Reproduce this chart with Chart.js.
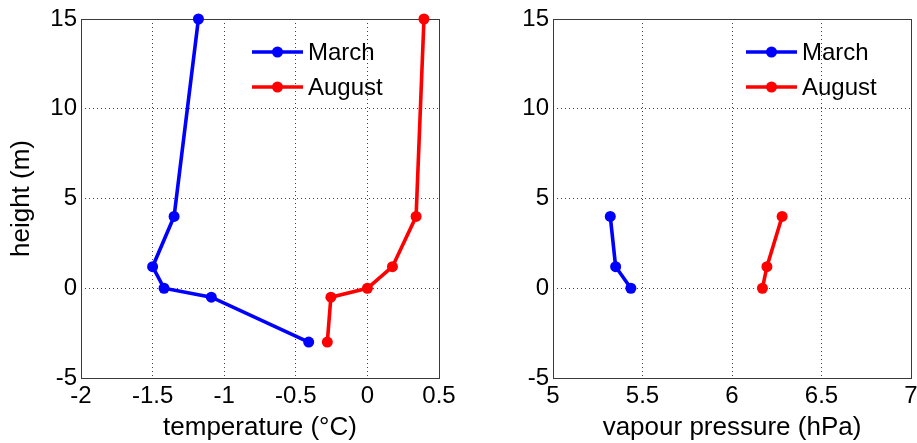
<!DOCTYPE html>
<html>
<head>
<meta charset="utf-8">
<script src="https://cdn.jsdelivr.net/npm/chart.js@4/dist/chart.umd.min.js"></script>
<style>
html,body{margin:0;padding:0;background:#fff;overflow:hidden;width:917px;height:443px;}
#w1{position:absolute;left:0;top:0;width:460px;height:443px;}
#w2{position:absolute;left:460px;top:0;width:477px;height:443px;}
</style>
</head>
<body>
<div id="w1"><canvas id="c1"></canvas></div>
<div id="w2"><canvas id="c2"></canvas></div>
<script>
// ---- data ----
const seriesNames = ['March', 'August'];
const tempHeights = [15, 4, 1.2, 0, -0.5, -3];
const marchTemp = [-1.18, -1.35, -1.50, -1.42, -1.09, -0.41];
const augustTemp = [0.395, 0.34, 0.175, 0.0, -0.255, -0.28];
const vpHeights = [4, 1.2, 0];
const marchVp = [5.32, 5.35, 5.435];
const augustVp = [6.28, 6.195, 6.17];
const tempTicks = [-2, -1.5, -1, -0.5, 0, 0.5];
const vpTicks = [5, 5.5, 6, 6.5, 7];
const heightTicks = [-5, 0, 5, 10, 15];

const FONT = "'Liberation Sans', Arial, sans-serif";
const colors = ['#0000ff', '#ff0000'];

function pts(xs, ys){ return xs.map((x,i)=>({x:x, y:ys[i]})); }

function ds(label, data, color){
  return {label, data, borderColor:color, backgroundColor:color,
    showLine:true, borderWidth:3.6, pointRadius:5.5, pointHoverRadius:5.5,
    pointBorderWidth:0, clip:false, tension:0};
}

const boxPlugin = {
  id:'boxPlugin',
  beforeDatasetsDraw(chart){
    const {ctx, chartArea:a} = chart;
    ctx.save();
    ctx.strokeStyle = '#3a3a3a';
    ctx.lineWidth = 1;
    ctx.strokeRect(Math.round(a.left)+0.5, Math.round(a.top)+0.5, Math.round(a.right-a.left), Math.round(a.bottom-a.top));
    ctx.restore();
  }
};

const legendPlugin = {
  id:'mlegend',
  afterDatasetsDraw(chart, args, opts){
    const {ctx, chartArea:a} = chart;
    ctx.save();
    chart.data.datasets.forEach((d,i)=>{
      const x0 = a.left + opts.x;
      const y = a.top + opts.y + i*opts.dy;
      ctx.strokeStyle = d.borderColor;
      ctx.lineWidth = 3.6;
      ctx.beginPath(); ctx.moveTo(x0, y); ctx.lineTo(x0+opts.len, y); ctx.stroke();
      ctx.fillStyle = d.borderColor;
      ctx.beginPath(); ctx.arc(x0+opts.len/2, y, 5.5, 0, Math.PI*2); ctx.fill();
      ctx.fillStyle = '#000';
      ctx.font = opts.fontSize + 'px ' + FONT;
      ctx.textBaseline = 'middle';
      ctx.textAlign = 'left';
      ctx.fillText(d.label, x0+opts.len+5, y+1);
    });
    ctx.restore();
  }
};

function makeChart(id, datasets, xmin, xmax, xstep, xTicks, xTitle, yTitle, yWidth, padRight, legX){
  const tickFont = {family:FONT, size:24};
  return new Chart(document.getElementById(id), {
    type:'scatter',
    data:{datasets},
    plugins:[boxPlugin, legendPlugin],
    options:{
      responsive:true, maintainAspectRatio:false, animation:false,
      layout:{padding:{top:19, right:padRight, left:0, bottom:0}},
      plugins:{
        legend:{display:false}, tooltip:{enabled:false},
        mlegend:{x:legX, y:33, dy:35, len:51, fontSize:24}
      },
      scales:{
        x:{
          type:'linear', min:xmin, max:xmax,
          afterBuildTicks: s => { s.ticks = xTicks.map(v=>({value:v})); },
          afterFit: s => { s.height = 65; },
          ticks:{font:tickFont, color:'#000', padding:4, maxRotation:0, autoSkip:false,
            callback: v => String(v)},
          grid:{color:'rgba(0,0,0,0.75)', lineWidth:1, drawTicks:false},
          border:{display:false, dash:[1,3]},
          title:{display:true, text:xTitle, color:'#000', font:{family:FONT, size:26}, padding:{top:0,bottom:0}}
        },
        y:{
          type:'linear', min:-5, max:15,
          afterBuildTicks: s => { s.ticks = heightTicks.map(v=>({value:v})); },
          afterFit: s => { s.width = yWidth; },
          ticks:{font:tickFont, color:'#000', padding:4, autoSkip:false, callback: v => String(v)},
          grid:{color:'rgba(0,0,0,0.75)', lineWidth:1, drawTicks:false},
          border:{display:false, dash:[1,3]},
          title:{display: !!yTitle, text:yTitle || '', color:'#000', font:{family:FONT, size:26}, padding:{top:6,bottom:0}}
        }
      }
    }
  });
}

Chart.defaults.font.family = FONT;

const c1 = makeChart('c1', [
  ds(seriesNames[0], pts(marchTemp, tempHeights), colors[0]),
  ds(seriesNames[1], pts(augustTemp, tempHeights), colors[1])
], -2, 0.5, 0.5, tempTicks, 'temperature (\u00B0C)', 'height (m)', 81, 21, 171);

const c2 = makeChart('c2', [
  ds(seriesNames[0], pts(marchVp, vpHeights), colors[0]),
  ds(seriesNames[1], pts(augustVp, vpHeights), colors[1])
], 5, 7, 0.5, vpTicks, 'vapour pressure (hPa)', null, 93, 26, 193);
</script>
</body>
</html>
